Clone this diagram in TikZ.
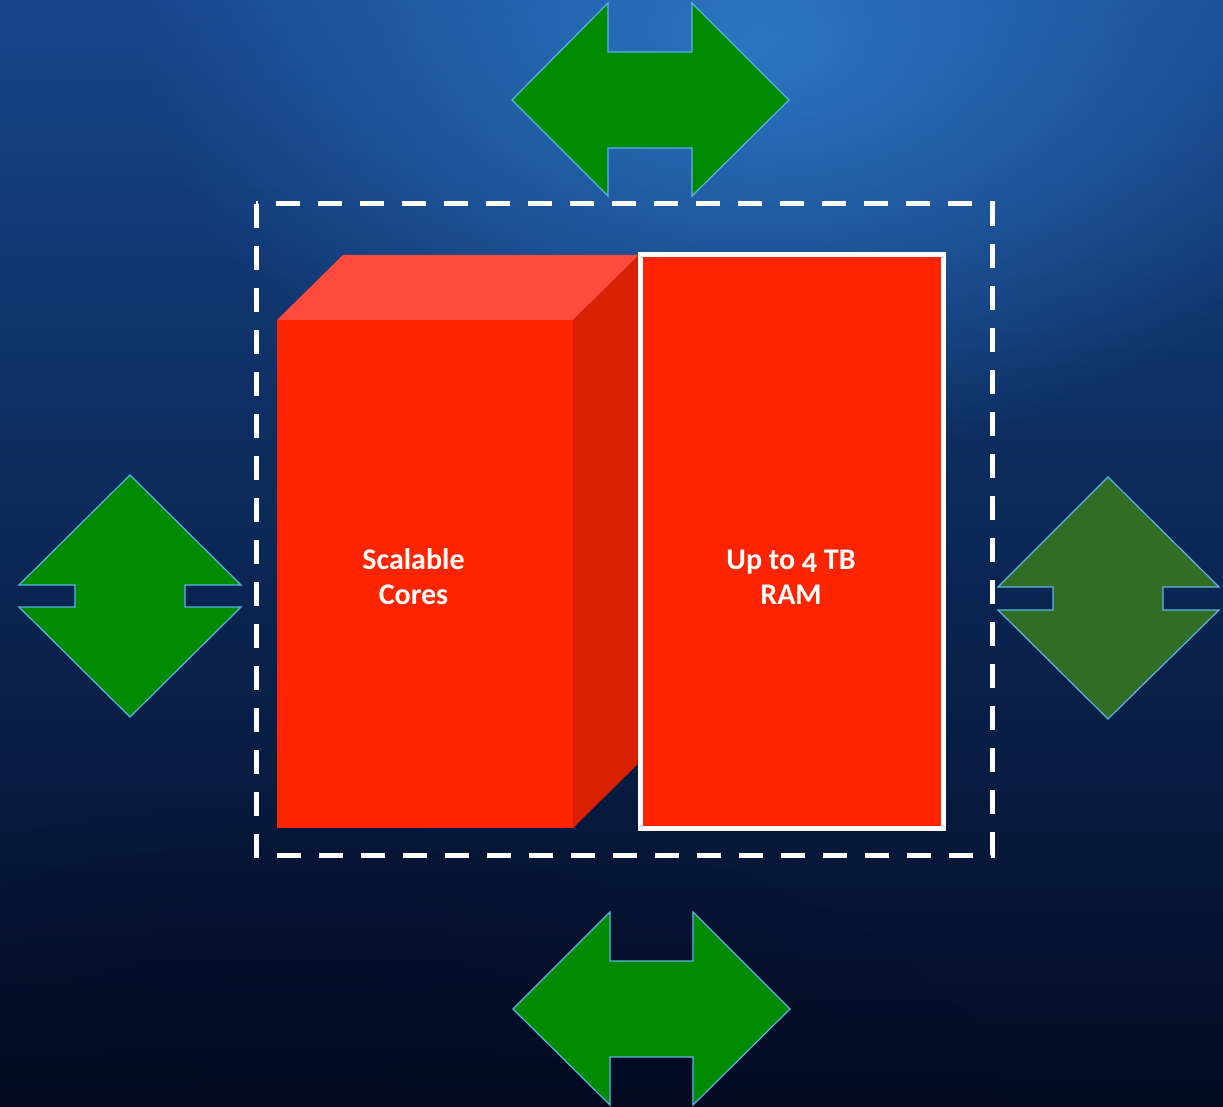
\documentclass[tikz,border=0pt]{standalone}
\usepackage{fontspec}
\setmainfont{Carlito}[Numbers=OldStyle]
\usetikzlibrary{fadings}
\tikzfading[name=softglow, inner color=transparent!0, outer color=transparent!100]
\begin{document}
\begin{tikzpicture}[x=1pt,y=-1pt,
  arrowshape/.style={fill=arrgreen,draw=edgeblue,line width=1.2pt,line join=miter},
  label/.style={text=white,font=\bfseries\fontsize{30}{35}\selectfont,align=center,inner sep=0pt}]
\definecolor{arrgreen}{HTML}{008A00}
\definecolor{arrdark}{HTML}{316D25}
\definecolor{edgeblue}{HTML}{5AB4E6}
\definecolor{redfront}{HTML}{FF2400}
\definecolor{redtop}{HTML}{FF4B3E}
\definecolor{redside}{HTML}{D92000}
\definecolor{bgtop}{HTML}{17468C}
\definecolor{bgmid}{HTML}{0B2755}
\definecolor{bgbot}{HTML}{030A22}
\definecolor{glow}{HTML}{2E7AC8}
% background
\useasboundingbox (0,0) rectangle (1223,1107);
\shade[top color=bgtop,bottom color=bgbot,middle color=bgmid] (0,0) rectangle (1223,1107);
\begin{scope}
\clip (0,0) rectangle (1223,1107);
\fill[glow,path fading=softglow,fit fading=true,opacity=0.9] (760,40) ellipse [x radius=620pt,y radius=420pt];
\fill[bgbot,path fading=softglow,fit fading=true,opacity=0.6] (300,1107) ellipse [x radius=700pt,y radius=300pt];
\end{scope}
% dashed frame
\draw[white,line width=5pt,dash pattern=on 24pt off 18pt] (256,204) rectangle (992,855);
% cuboid
\fill[redtop] (277,320) -- (343,255) -- (639,255) -- (573,320) -- cycle;
\fill[redside] (573,320) -- (639,255) -- (639,763) -- (573,828) -- cycle;
\fill[redfront] (277,320) rectangle (573,828);
% RAM box
\draw[white,fill=redfront,line width=5pt] (640,255) rectangle (943,828);
% labels
\node[label] (cores) at (413.5,577) {Scalable\\Cores};
\node[label] (ram) at (791,577) {Up to 4 TB\\RAM};
% top arrow
\draw[arrowshape] (512,100) -- (608,3) -- (608,52) -- (692,52) -- (692,3) -- (789,100) -- (692,196) -- (692,148) -- (608,148) -- (608,196) -- cycle;
% bottom arrow
\draw[arrowshape] (513,1009) -- (610,912) -- (610,961) -- (693,961) -- (693,912) -- (790,1009) -- (693,1105) -- (693,1057) -- (610,1057) -- (610,1105) -- cycle;
% left arrow
\draw[arrowshape] (130,475) -- (241,585) -- (185,585) -- (185,607) -- (241,607) -- (130,717) -- (19,607) -- (75,607) -- (75,585) -- (19,585) -- cycle;
% right arrow
\draw[arrowshape,fill=arrdark] (1108,477) -- (1219,587) -- (1163,587) -- (1163,610) -- (1219,610) -- (1108,719) -- (998,610) -- (1053,610) -- (1053,587) -- (998,587) -- cycle;
\end{tikzpicture}
\end{document}
